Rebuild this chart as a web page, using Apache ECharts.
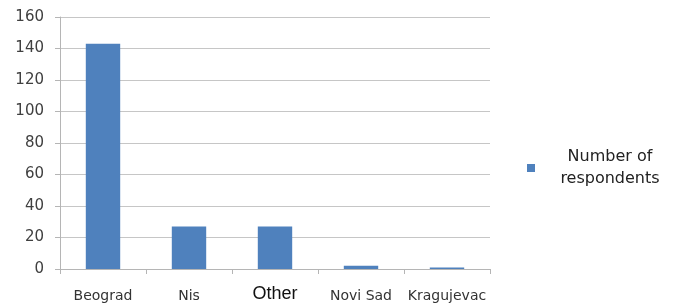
<!DOCTYPE html>
<html>
<head>
<meta charset="utf-8">
<script src="https://cdn.jsdelivr.net/npm/echarts@6/dist/echarts.min.js"></script>
<style>
html,body{margin:0;padding:0;background:#fff;}
#main{width:674px;height:307px;}
</style>
</head>
<body>
<div id="main"></div>
<script>
// 城市和数值
var cities = ['Beograd', 'Nis', 'Other', 'Novi Sad', 'Kragujevac'];
var respondents = [143, 27, 27, 2, 1];
var seriesName = 'Number of respondents';

var myChart = echarts.init(document.getElementById('main'));
var option = {
    animation: false,
    backgroundColor: '#fff',
    grid: {
        left: 60,
        right: 184,
        top: 17,
        bottom: 38
    },
    legend: {
        orient: 'vertical',
        left: 522,
        top: 144,
        icon: 'rect',
        itemWidth: 8,
        itemHeight: 8,
        itemGap: 10,
        data: [seriesName],
        formatter: function () {
            return '{a|Number of}\n{a|respondents}';
        },
        textStyle: {
            padding: [0, 0, 0, 16],
            rich: {
                a: {
                    fontFamily: 'DejaVu Sans',
                    fontSize: 16,
                    color: '#222',
                    width: 108,
                    align: 'center',
                    lineHeight: 22
                }
            }
        }
    },
    xAxis: {
        type: 'category',
        data: cities,
        axisLine: { lineStyle: { color: '#b5b5b5', width: 1 } },
        axisTick: { show: true, interval: 0, length: 5, lineStyle: { color: '#b5b5b5' } },
        axisLabel: {
            interval: 0,
            margin: 20,
            fontFamily: 'DejaVu Sans',
            fontSize: 14,
            color: '#333',
            formatter: function (v) {
                if (v === 'Other') return '{o|' + v + '}';
                return v;
            },
            rich: {
                o: {
                    fontFamily: 'Liberation Sans',
                    fontSize: 18,
                    color: '#111',
                    lineHeight: 10
                }
            }
        }
    },
    yAxis: {
        type: 'value',
        min: 0,
        max: 160,
        interval: 20,
        axisLine: { show: true, lineStyle: { color: '#b5b5b5' } },
        axisTick: { show: true, length: 5, lineStyle: { color: '#b5b5b5' } },
        axisLabel: {
            margin: 16,
            fontFamily: 'DejaVu Sans',
            fontSize: 15,
            color: '#404040'
        },
        splitLine: { lineStyle: { color: '#c6c6c6', width: 1 } }
    },
    series: [
        {
            name: seriesName,
            type: 'bar',
            data: respondents,
            barWidth: '40%',
            itemStyle: { color: '#4f81bd' }
        }
    ]
};
myChart.setOption(option);
</script>
</body>
</html>
